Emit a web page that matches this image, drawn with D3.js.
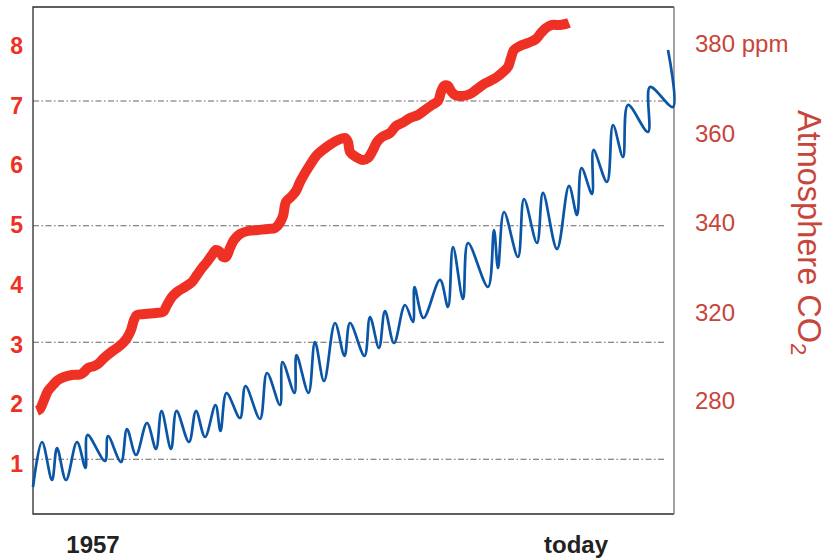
<!DOCTYPE html>
<html><head><meta charset="utf-8">
<script src="https://cdn.jsdelivr.net/npm/d3@7"></script>
<style>html,body{margin:0;padding:0;background:#fff;} svg{display:block;}</style>
</head><body>
<svg id="chart" width="828" height="558"></svg>
<script>
// ---- data ----
const leftTicks = [1, 2, 3, 4, 5, 6, 7, 8];
const rightTicks = [280, 320, 340, 360, 380];
const gridValues = [1.08, 3.04, 4.99, 7.08];
const xLabelYears = [1957, 2005.3];
const xLabelTexts = ["1957", "today"];

const redYear = [1951.4,1951.7,1952.1,1952.5,1953.0,1953.5,1954.1,1954.9,1955.7,1956.1,1956.5,1957.1,1957.5,1958.1,1958.7,1959.4,1960.0,1960.4,1960.8,1961.1,1961.4,1962.2,1963.3,1964.0,1964.4,1964.9,1965.4,1966.2,1966.9,1967.4,1967.9,1968.4,1968.9,1969.3,1969.7,1970.0,1970.3,1970.7,1971.1,1971.7,1972.5,1973.5,1974.5,1975.2,1975.6,1976.0,1976.3,1976.8,1977.3,1977.7,1978.2,1978.7,1979.4,1980.1,1980.8,1981.5,1982.2,1982.5,1982.7,1983.3,1984.0,1984.5,1985.0,1985.4,1985.9,1986.7,1987.3,1987.9,1988.7,1989.5,1990.2,1990.9,1991.5,1991.8,1992.1,1992.5,1992.8,1993.2,1993.9,1994.7,1995.3,1996.1,1996.7,1997.4,1998.0,1998.5,1998.8,1999.1,1999.7,2000.5,2001.3,2001.8,2002.3,2002.9,2003.7,2004.3,2004.6];
const redValue = [1.888,1.921,2.072,2.223,2.323,2.407,2.457,2.491,2.499,2.541,2.608,2.641,2.675,2.775,2.859,2.943,3.026,3.110,3.244,3.412,3.495,3.512,3.529,3.546,3.663,3.797,3.881,3.964,4.048,4.165,4.283,4.383,4.500,4.584,4.551,4.467,4.467,4.618,4.751,4.852,4.902,4.919,4.936,4.952,5.019,5.153,5.388,5.472,5.572,5.723,5.874,6.008,6.175,6.276,6.359,6.426,6.460,6.393,6.225,6.141,6.091,6.125,6.259,6.393,6.476,6.543,6.661,6.711,6.795,6.845,6.929,7.012,7.079,7.230,7.331,7.331,7.247,7.180,7.163,7.197,7.264,7.364,7.414,7.481,7.565,7.649,7.800,7.934,8.001,8.051,8.118,8.218,8.302,8.352,8.352,8.369,8.386];

const blueYear = [1951.0,1951.9,1952.9,1953.4,1954.3,1955.4,1956.25,1956.45,1958.2,1958.5,1959.8,1960.4,1961.3,1962.4,1963.3,1963.85,1964.8,1965.35,1966.6,1967.3,1968.2,1969.25,1969.75,1970.35,1971.7,1972.25,1973.7,1974.4,1975.7,1975.95,1977.15,1977.35,1978.55,1979.2,1980.1,1981.2,1982.15,1982.7,1984.15,1984.7,1985.6,1986.2,1987.1,1988.2,1989.0,1989.15,1990.05,1991.7,1992.5,1993.0,1994.0,1994.5,1996.5,1997.1,1997.5,1998.1,1999.5,2000.1,2001.4,2002.0,2003.4,2004.6,2005.4,2005.85,2006.9,2007.05,2008.4,2009.0,2010.0,2010.5,2012.5,2012.7,2015.0,2014.5];
const blueValue = [0.615,1.368,0.732,1.268,0.732,1.368,0.933,1.486,1.050,1.469,1.033,1.586,1.151,1.687,1.251,1.888,1.251,1.888,1.368,1.888,1.452,1.988,1.553,2.189,1.770,2.306,1.754,2.524,1.988,2.708,2.189,2.825,2.189,3.043,2.390,3.361,2.809,3.361,2.809,3.462,2.943,3.562,3.026,3.663,3.378,3.964,3.445,4.082,3.629,4.634,3.763,4.701,3.964,4.919,4.283,5.220,4.467,5.438,4.701,5.539,4.601,5.656,5.170,5.957,5.522,6.259,5.723,6.677,6.141,7.012,6.560,7.314,6.979,7.934];

// ---- layout ----
const plot = {left: 33, right: 674, top: 7, bottom: 514};
const svg = d3.select("#chart");

const x = d3.scaleLinear().domain([1951, 2015.1]).range([plot.left, plot.right]);
const yL = d3.scaleLinear().domain([1, 8]).range([464, 46]);
const yR = d3.scaleLinear().domain([280, 320, 380]).range([401, 312.5, 44]);

const FONT = "'Liberation Sans', Arial, Helvetica, sans-serif";

// gridlines
svg.append("g").selectAll("line").data(gridValues).join("line")
  .attr("x1", plot.left).attr("x2", 666)
  .attr("y1", d => yL(d)).attr("y2", d => yL(d))
  .attr("stroke", "#666").attr("stroke-width", 1.1)
  .attr("stroke-dasharray", "6,2.5,1.5,2.5");

// frame
const frame = svg.append("g").attr("fill", "none");
frame.append("path")
  .attr("d", `M${plot.right},${plot.top}H${plot.left}V${plot.bottom}H${plot.right}`)
  .attr("stroke", "#2b2b2b").attr("stroke-width", 1.3);
frame.append("line")
  .attr("x1", plot.right).attr("x2", plot.right).attr("y1", plot.top).attr("y2", plot.bottom)
  .attr("stroke", "#7a7a7a").attr("stroke-width", 1.4);

// lines
const redData = redYear.map((t, i) => [t, redValue[i]]);
const blueData = blueYear.map((t, i) => [t, blueValue[i]]);

const line = d3.line().x(d => x(d[0])).y(d => yL(d[1])).curve(d3.curveCatmullRom.alpha(0.5));

svg.append("path").datum(blueData)
  .attr("d", line).attr("fill", "none")
  .attr("stroke", "#0b55a6").attr("stroke-width", 2.7)
  .attr("stroke-linejoin", "round");

svg.append("path").datum(redData)
  .attr("d", line).attr("fill", "none")
  .attr("stroke", "#ee3124").attr("stroke-width", 10)
  .attr("stroke-linejoin", "round").attr("stroke-linecap", "butt");

// left axis labels
svg.append("g").selectAll("text").data(leftTicks).join("text")
  .attr("x", 23).attr("y", d => yL(d)).attr("dy", "0.35em")
  .attr("text-anchor", "end")
  .attr("font-family", FONT).attr("font-weight", "bold").attr("font-size", 23)
  .attr("fill", "#ee3124")
  .text(d => d);

// right axis labels
svg.append("g").selectAll("text").data(rightTicks).join("text")
  .attr("x", 695).attr("y", d => yR(d)).attr("dy", "0.35em")
  .attr("text-anchor", "start")
  .attr("font-family", FONT).attr("font-size", 24)
  .attr("fill", "#c8453a")
  .text(d => d === 380 ? "380 ppm" : d);

// right axis title
const title = svg.append("text")
  .attr("transform", "translate(798,110) rotate(90)")
  .attr("font-family", FONT).attr("font-size", 32.5)
  .attr("fill", "#c8453a");
title.append("tspan").text("Atmosphere CO");
title.append("tspan").attr("font-size", 22).attr("dy", 7).text("2");

// bottom labels
svg.append("g").selectAll("text").data(xLabelYears).join("text")
  .attr("x", d => x(d)).attr("y", 553)
  .attr("text-anchor", "middle")
  .attr("font-family", FONT).attr("font-weight", "bold").attr("font-size", 24)
  .attr("fill", "#222")
  .text((d, i) => xLabelTexts[i]);
</script>
</body></html>
